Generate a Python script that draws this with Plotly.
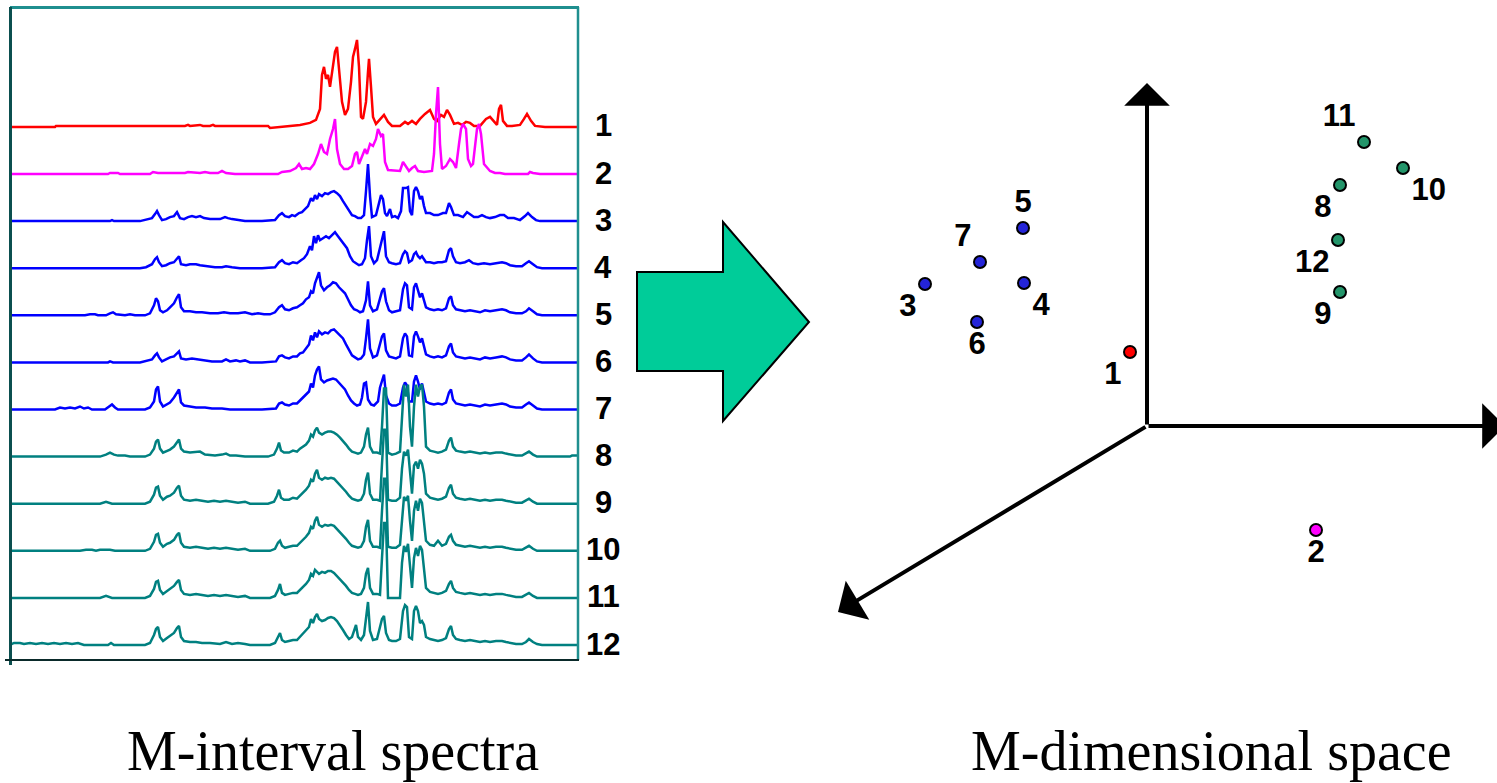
import plotly.graph_objects as go

W, H = 1497, 783

# ---------------- data: left panel (spectra) ----------------
# each spectrum: (channel, intensity above its own baseline)
spectrum_1 = [(10,0),(55,0),(56,1),(185,1),(188,2),(190,1),(200,2),(203,1),(210,1),(213,2),(215,1),(268,1),(270,-1),(285,0),(290,1),(300,2),(310,4),(316,7),(320,18),(322,52),(324,60),(326,48),(328,52),(330,40),(333,60),(335,75),(337,80),(339,55),(342,25),(345,12),(348,18),(351,45),(353,70),(355,78),(357,87),(359,60),(361,10),(363,8),(366,25),(368,55),(369,68),(371,40),(373,10),(376,3),(380,8),(384,12),(388,5),(392,1),(400,1),(405,5),(408,3),(412,6),(416,3),(420,8),(425,13),(430,17),(434,8),(437,6),(441,12),(444,10),(447,17),(450,12),(454,3),(458,4),(462,2),(466,5),(470,4),(474,1),(480,1),(486,8),(490,10),(494,6),(497,2),(499,18),(501,22),(503,6),(507,1),(512,1),(520,2),(524,8),(527,13),(531,6),(535,1),(545,0),(578,0)]
spectrum_2 = [(10,0),(108,0),(110,1),(118,1),(120,0),(150,0),(153,2),(158,1),(185,1),(188,2),(200,1),(205,2),(210,1),(218,1),(222,3),(226,1),(235,0),(278,0),(282,2),(290,3),(296,6),(299,10),(302,5),(306,6),(310,5),(314,10),(318,20),(321,30),(324,22),(327,20),(330,35),(333,45),(335,55),(337,25),(340,10),(344,5),(348,5),(352,8),(355,20),(357,22),(359,10),(362,18),(365,25),(367,20),(370,30),(373,28),(376,35),(378,45),(381,38),(383,40),(385,12),(388,4),(395,3),(400,3),(403,12),(406,8),(409,3),(412,6),(415,8),(418,3),(424,2),(432,3),(434,20),(436,60),(438,87),(440,30),(442,5),(446,8),(450,15),(453,12),(456,6),(459,30),(461,45),(463,50),(466,45),(468,15),(471,8),(473,10),(475,30),(477,45),(479,50),(481,40),(484,10),(487,6),(490,3),(495,1),(500,1),(505,0),(528,0),(530,2),(533,1),(540,0),(578,0)]
spectrum_3 = [(10,0),(110,0),(112,1),(114,0),(140,0),(145,1),(152,3),(155,7),(157,10),(159,6),(162,1),(166,2),(170,4),(174,5),(177,9),(180,3),(184,2),(188,4),(192,5),(196,4),(200,5),(204,3),(210,2),(220,2),(225,4),(228,3),(232,2),(245,0),(262,0),(275,1),(279,6),(282,8),(285,5),(289,4),(292,6),(295,5),(299,8),(302,9),(305,12),(308,15),(311,23),(313,20),(315,26),(317,22),(319,27),(322,25),(325,28),(328,27),(331,29),(334,30),(337,28),(340,25),(343,20),(346,15),(349,10),(352,6),(355,5),(358,3),(361,3),(364,6),(366,30),(368,57),(370,25),(372,4),(376,6),(379,20),(381,26),(383,22),(385,8),(387,5),(390,12),(392,4),(395,5),(398,3),(401,10),(403,33),(406,33),(408,34),(410,10),(412,6),(414,30),(416,34),(418,30),(420,22),(422,25),(424,15),(426,8),(430,8),(434,6),(438,6),(441,7),(443,8),(446,8),(449,18),(451,14),(454,6),(458,6),(463,4),(467,9),(470,7),(474,4),(478,4),(482,6),(486,4),(490,3),(495,4),(500,6),(504,6),(508,3),(514,3),(520,1),(525,5),(528,8),(532,4),(536,1),(540,0),(578,0)]
spectrum_4 = [(10,0),(140,0),(146,1),(152,4),(155,9),(157,11),(159,6),(162,2),(166,3),(170,5),(174,6),(177,10),(179,12),(181,4),(186,3),(190,4),(196,4),(200,3),(208,2),(215,1),(222,1),(226,2),(232,1),(240,0),(262,0),(275,1),(279,6),(282,8),(285,5),(289,4),(293,6),(297,5),(301,8),(304,10),(307,14),(310,22),(312,18),(314,32),(316,25),(318,33),(320,28),(323,30),(326,32),(329,30),(332,33),(335,36),(338,32),(341,28),(344,24),(347,20),(350,12),(353,7),(356,5),(359,3),(362,4),(365,10),(367,28),(369,42),(371,12),(374,5),(377,8),(380,20),(382,30),(384,37),(386,12),(389,6),(392,5),(396,4),(400,5),(403,14),(405,17),(407,15),(409,6),(412,8),(414,14),(416,16),(418,12),(420,10),(422,12),(424,9),(426,6),(430,6),(434,5),(438,6),(442,6),(446,7),(449,18),(451,20),(453,12),(456,6),(460,5),(465,6),(469,8),(473,5),(478,4),(484,5),(490,4),(496,5),(502,6),(506,5),(510,3),(516,2),(522,2),(526,5),(529,7),(533,4),(537,1),(542,0),(578,0)]
spectrum_5 = [(10,0),(85,0),(90,1),(95,1),(98,0),(106,0),(110,2),(113,3),(116,1),(125,0),(130,1),(135,0),(145,0),(150,2),(154,10),(156,17),(158,14),(160,5),(163,3),(167,5),(170,8),(174,12),(177,18),(179,21),(181,8),(184,4),(190,4),(196,3),(202,3),(210,2),(218,2),(224,3),(230,2),(238,2),(245,3),(252,1),(258,2),(264,1),(270,1),(275,3),(279,8),(282,10),(285,6),(289,5),(293,7),(297,8),(300,10),(303,12),(306,16),(309,18),(311,24),(313,22),(315,32),(317,38),(319,43),(321,30),(324,25),(327,28),(330,30),(333,33),(336,32),(339,28),(342,25),(345,22),(348,16),(351,10),(354,6),(357,5),(360,3),(363,4),(366,15),(368,34),(370,10),(373,4),(377,6),(380,18),(382,24),(384,27),(386,14),(389,5),(392,3),(396,4),(400,5),(403,26),(405,32),(407,30),(409,8),(412,6),(414,28),(416,32),(418,26),(420,18),(422,22),(424,16),(426,8),(430,6),(434,5),(438,6),(442,5),(446,7),(449,17),(451,19),(453,10),(456,6),(460,5),(465,4),(470,5),(475,4),(480,3),(485,5),(490,4),(496,5),(502,6),(506,5),(510,3),(516,2),(522,2),(526,4),(529,7),(533,4),(537,1),(542,0),(578,0)]
spectrum_6 = [(10,0),(108,0),(110,1),(113,0),(140,0),(145,1),(152,3),(155,7),(157,9),(159,5),(162,1),(166,3),(170,5),(174,6),(177,9),(179,11),(181,4),(186,3),(192,4),(198,3),(204,2),(212,1),(222,1),(226,3),(230,1),(236,2),(240,1),(245,2),(250,0),(262,0),(276,1),(279,6),(282,7),(285,5),(289,4),(293,6),(297,6),(300,9),(303,10),(306,14),(309,18),(311,27),(313,22),(315,30),(317,25),(319,31),(322,28),(325,30),(328,29),(331,32),(334,33),(337,30),(340,27),(343,24),(346,18),(349,12),(352,7),(355,5),(358,3),(361,4),(364,8),(366,24),(368,43),(370,14),(373,5),(377,7),(380,18),(382,26),(384,29),(386,12),(389,6),(392,5),(396,4),(400,6),(403,24),(405,29),(407,26),(409,7),(412,6),(414,26),(416,31),(418,26),(420,20),(422,24),(424,16),(426,8),(430,6),(434,5),(438,6),(442,5),(446,7),(449,16),(451,19),(453,10),(456,6),(460,5),(465,4),(470,5),(475,4),(480,3),(485,5),(490,4),(496,5),(502,6),(506,5),(510,3),(516,2),(522,2),(526,5),(529,8),(533,4),(537,1),(542,0),(578,0)]
spectrum_7 = [(10,0),(55,0),(60,2),(65,1),(70,2),(75,1),(80,3),(84,1),(88,2),(92,0),(105,0),(109,3),(112,5),(115,2),(118,0),(145,0),(150,2),(154,8),(156,20),(158,23),(160,8),(163,3),(167,5),(170,7),(174,12),(177,17),(179,20),(181,7),(184,4),(190,3),(196,2),(205,2),(212,1),(222,1),(230,0),(262,0),(276,1),(279,6),(282,7),(285,5),(289,4),(293,6),(297,6),(300,9),(303,12),(306,14),(309,18),(311,26),(313,22),(315,34),(317,40),(319,43),(321,30),(324,27),(327,29),(330,30),(333,31),(336,30),(339,27),(342,24),(345,20),(348,14),(351,9),(354,6),(357,4),(360,5),(362,12),(364,26),(366,27),(368,10),(371,5),(374,4),(378,8),(380,22),(382,30),(384,35),(386,14),(389,6),(392,4),(396,4),(400,6),(403,22),(405,27),(407,24),(409,8),(412,8),(414,28),(416,34),(418,28),(420,20),(422,26),(424,18),(426,8),(430,6),(434,5),(438,6),(442,5),(446,7),(449,17),(451,20),(453,10),(456,6),(460,5),(465,4),(470,5),(475,4),(480,3),(485,5),(490,4),(496,5),(502,6),(506,5),(510,3),(516,2),(522,2),(526,5),(529,7),(533,4),(537,1),(542,0),(578,0)]
spectrum_8 = [(10,0),(100,0),(106,2),(110,4),(114,2),(118,1),(125,1),(130,0),(145,0),(150,2),(154,8),(156,15),(158,17),(160,8),(163,4),(167,6),(170,7),(174,10),(177,14),(179,17),(181,8),(184,5),(190,4),(196,5),(200,5),(205,2),(215,1),(222,2),(226,3),(230,1),(236,1),(245,0),(268,0),(274,2),(277,8),(279,14),(281,6),(284,4),(289,4),(293,6),(297,5),(300,8),(303,10),(306,12),(309,16),(311,22),(313,20),(315,26),(317,29),(319,24),(322,22),(325,24),(328,25),(331,25),(334,24),(337,22),(340,19),(343,16),(346,12),(349,8),(352,5),(355,4),(358,3),(361,4),(364,10),(366,22),(368,29),(370,10),(373,4),(377,4),(380,3),(382,30),(384,68),(386,68),(388,4),(392,2),(396,3),(400,5),(402,40),(404,72),(406,60),(408,72),(410,30),(412,10),(414,50),(416,72),(418,60),(420,70),(422,72),(424,50),(426,10),(430,6),(434,5),(438,4),(442,5),(446,7),(449,16),(451,19),(453,10),(456,6),(460,5),(465,4),(470,5),(475,4),(480,3),(485,4),(490,3),(496,4),(502,4),(506,3),(510,2),(516,1),(522,1),(526,3),(529,5),(533,2),(537,0),(570,0),(572,1),(578,1)]
spectrum_9 = [(10,0),(100,0),(106,2),(109,1),(112,0),(145,0),(150,2),(154,9),(156,16),(158,17),(160,8),(163,4),(167,7),(170,8),(174,11),(177,16),(179,18),(181,8),(184,4),(190,3),(196,4),(202,3),(208,2),(214,3),(220,2),(226,3),(232,2),(238,1),(245,2),(250,0),(268,0),(274,2),(277,8),(279,14),(281,6),(284,4),(289,4),(293,6),(297,5),(300,8),(303,10),(306,14),(309,18),(311,24),(313,22),(315,30),(317,34),(319,26),(322,24),(325,26),(328,25),(331,26),(334,25),(337,22),(340,18),(343,15),(346,12),(349,8),(352,5),(355,4),(358,3),(361,4),(364,10),(366,24),(368,31),(370,10),(373,4),(377,4),(380,3),(382,40),(384,74),(386,74),(388,4),(392,3),(396,3),(400,6),(402,35),(404,52),(406,48),(408,54),(410,30),(412,10),(414,38),(416,42),(418,35),(420,44),(422,40),(424,30),(426,10),(430,6),(434,5),(438,4),(442,5),(446,7),(449,16),(451,19),(453,10),(456,6),(460,5),(465,4),(470,5),(475,4),(480,3),(485,4),(490,3),(496,4),(502,4),(506,3),(510,2),(516,1),(522,1),(526,3),(529,5),(533,2),(537,0),(578,0)]
spectrum_10 = [(10,0),(80,0),(86,1),(92,1),(96,0),(100,1),(110,1),(115,0),(145,0),(150,2),(154,9),(156,16),(158,17),(160,8),(163,4),(167,7),(170,8),(174,11),(177,16),(179,18),(181,8),(184,4),(190,3),(196,4),(202,3),(208,2),(214,3),(220,2),(226,3),(232,2),(238,1),(245,2),(250,0),(270,0),(275,2),(278,8),(280,10),(282,5),(285,3),(289,4),(293,5),(297,5),(300,8),(303,10),(306,14),(309,18),(311,24),(313,22),(315,30),(317,34),(319,26),(322,24),(325,26),(328,25),(331,26),(334,25),(337,22),(340,18),(343,15),(346,12),(349,8),(352,5),(355,4),(358,3),(361,4),(364,10),(366,24),(368,31),(370,10),(373,4),(377,4),(380,3),(382,40),(384,72),(386,72),(388,4),(392,3),(396,3),(400,6),(402,35),(404,54),(406,50),(408,55),(410,30),(412,10),(414,40),(416,50),(418,40),(420,52),(422,48),(424,30),(426,10),(430,6),(434,5),(438,10),(440,8),(442,5),(446,7),(449,14),(451,16),(453,10),(456,6),(460,5),(465,4),(470,5),(475,4),(480,3),(485,4),(490,3),(496,4),(502,4),(506,3),(510,2),(516,1),(522,1),(526,3),(529,5),(533,2),(537,0),(578,0)]
spectrum_11 = [(10,0),(100,0),(106,2),(109,1),(112,0),(145,0),(150,2),(154,9),(156,16),(158,17),(160,8),(163,4),(167,7),(170,9),(174,12),(177,16),(179,18),(181,8),(184,4),(190,3),(196,4),(202,3),(208,2),(214,3),(220,2),(226,3),(232,2),(238,1),(245,2),(250,0),(270,0),(275,2),(278,8),(280,14),(282,5),(285,3),(289,4),(293,5),(297,5),(300,8),(303,10),(306,14),(309,18),(311,24),(313,22),(315,28),(317,26),(319,24),(322,26),(325,25),(328,27),(331,27),(334,25),(337,22),(340,18),(343,15),(346,12),(349,8),(352,5),(355,4),(358,3),(361,4),(364,10),(366,24),(368,30),(370,10),(373,4),(377,4),(380,3),(382,40),(384,75),(386,75),(388,0),(400,0),(402,35),(404,52),(406,46),(408,54),(410,30),(412,10),(414,40),(416,50),(418,42),(420,52),(422,48),(424,30),(426,10),(430,6),(434,5),(438,4),(442,5),(446,7),(449,14),(451,17),(453,10),(456,6),(460,5),(465,4),(470,5),(475,4),(480,3),(485,4),(490,3),(496,4),(502,4),(506,3),(510,2),(516,1),(522,1),(526,3),(529,5),(533,2),(537,0),(578,0)]
spectrum_12 = [(10,0),(14,2),(20,2),(24,1),(30,2),(36,1),(42,2),(48,1),(54,2),(60,1),(66,2),(72,1),(78,2),(84,0),(108,0),(111,2),(114,0),(145,0),(150,2),(154,10),(156,16),(158,18),(160,8),(163,4),(167,7),(170,9),(174,12),(177,17),(179,19),(181,8),(184,4),(190,3),(196,3),(202,2),(210,2),(220,1),(226,3),(232,1),(238,2),(245,1),(250,0),(270,0),(275,2),(278,8),(280,12),(282,5),(285,3),(289,4),(293,5),(297,5),(300,8),(303,12),(306,14),(309,18),(311,26),(313,22),(315,28),(317,31),(319,26),(322,24),(325,25),(328,27),(331,28),(334,27),(337,24),(340,20),(343,15),(346,10),(349,6),(352,8),(354,14),(356,20),(358,8),(361,5),(364,10),(366,28),(368,43),(370,14),(373,5),(377,6),(380,20),(382,26),(384,29),(386,12),(389,5),(392,4),(396,4),(400,6),(403,34),(405,40),(407,38),(409,8),(412,6),(414,34),(416,39),(418,34),(420,22),(422,24),(424,20),(426,8),(430,6),(434,5),(438,4),(442,5),(446,7),(449,16),(451,19),(453,10),(456,6),(460,5),(465,4),(470,5),(475,4),(480,3),(485,4),(490,3),(496,4),(502,4),(506,3),(510,2),(516,1),(522,1),(526,3),(529,6),(533,3),(537,1),(542,0),(578,0)]

spectra = [spectrum_1, spectrum_2, spectrum_3, spectrum_4, spectrum_5, spectrum_6,
           spectrum_7, spectrum_8, spectrum_9, spectrum_10, spectrum_11, spectrum_12]
spectrum_labels = ["1", "2", "3", "4", "5", "6", "7", "8", "9", "10", "11", "12"]

# ---------------- data: right panel (M-dimensional space) ----------------
point_labels = ["1", "2", "3", "4", "5", "6", "7", "8", "9", "10", "11", "12"]
point_x = [-1.7, 16.9, -22.2, -12.3, -12.4, -17.0, -16.7, 19.3, 19.3, 25.6, 21.7, 19.1]
point_y = [7.4, -10.4, 14.2, 14.3, 19.8, 10.4, 16.4, 24.1, 13.4, 25.8, 28.4, 18.6]

# ---------------- styles ----------------
RED, MAG, BLUE, TEAL = "#FF0000", "#FF00FF", "#0000FF", "#008080"
spectrum_colors = [RED, MAG] + [BLUE] * 5 + [TEAL] * 5
point_colors = ["#FF0000", "#FF00FF"] + ["#2424D8"] * 5 + ["#23956A"] * 5
point_textpos = ["bottom left", "bottom center", "bottom left", "bottom right", "top center",
                 "bottom center", "top left", "bottom left", "bottom left", "bottom right",
                 "top left", "bottom left"]
LABEL_FONT = dict(family="Liberation Sans, Arial, sans-serif", size=31, color="black", weight="bold")

SPACING = 47.1
BASE0 = 15

fig = go.Figure()

for k, (spec, color) in enumerate(zip(spectra, spectrum_colors)):
    offset = BASE0 + (len(spectra) - 1 - k) * SPACING
    fig.add_trace(go.Scatter(
        x=[p[0] for p in spec], y=[offset + p[1] for p in spec],
        mode="lines", line=dict(color=color, width=2.5),
        xaxis="x", yaxis="y", hoverinfo="skip", showlegend=False))

fig.add_trace(go.Scatter(
    x=point_x, y=point_y, mode="markers+text", text=point_labels,
    textposition=point_textpos, textfont=LABEL_FONT,
    marker=dict(size=12, color=point_colors, line=dict(color="black", width=2)),
    xaxis="x2", yaxis="y2", hoverinfo="skip", showlegend=False, cliponaxis=False))

def px_x(v):
    return v / W

def px_y(v):
    return 1 - v / H

annotations = []
for k, lab in enumerate(spectrum_labels):
    offset = BASE0 + (len(spectra) - 1 - k) * SPACING
    annotations.append(dict(
        x=px_x(603), xref="paper", y=offset + 1, yref="y", text=lab, showarrow=False,
        xanchor="center", yanchor="middle", font=LABEL_FONT))

# 3-D style coordinate axes on the right
for tip in [(0, 34.3), (35.8, 0), (-30.9, -18.6)]:
    annotations.append(dict(
        x=tip[0], y=tip[1], xref="x2", yref="y2",
        ax=0, ay=0, axref="x2", ayref="y2",
        text="", showarrow=True, arrowhead=1, arrowsize=1.9, arrowwidth=4,
        arrowcolor="black", standoff=0, startstandoff=0))

title_font = dict(family="Liberation Serif, Times New Roman, serif", size=56, color="black")
annotations.append(dict(x=px_x(333), y=px_y(751), xref="paper", yref="paper",
                        text="M-interval spectra", showarrow=False,
                        xanchor="center", yanchor="middle", font=title_font))
annotations.append(dict(x=px_x(1211), y=px_y(751), xref="paper", yref="paper",
                        text="M-dimensional space", showarrow=False,
                        xanchor="center", yanchor="middle", font=title_font))

shapes = []
# frame of the spectra panel
shapes.append(dict(type="line", xref="paper", yref="paper", x0=px_x(10), x1=px_x(579),
                   y0=px_y(7.5), y1=px_y(7.5), line=dict(color="#1F8F8F", width=3)))
shapes.append(dict(type="line", xref="paper", yref="paper", x0=px_x(578), x1=px_x(578),
                   y0=px_y(7), y1=px_y(660), line=dict(color="#1F8F8F", width=2.5)))
shapes.append(dict(type="line", xref="paper", yref="paper", x0=px_x(10.5), x1=px_x(10.5),
                   y0=px_y(7), y1=px_y(665), line=dict(color="#0B4F4F", width=3)))
shapes.append(dict(type="line", xref="paper", yref="paper", x0=px_x(5), x1=px_x(579),
                   y0=px_y(660), y1=px_y(660), line=dict(color="#0A2A2A", width=2)))
# big transformation arrow
arrow_pts = [(637, 272), (723, 272), (723, 222), (809, 322), (723, 421), (723, 371), (637, 371)]
path = "M " + " L ".join(f"{px_x(a):.5f},{px_y(b):.5f}" for a, b in arrow_pts) + " Z"
shapes.append(dict(type="path", xref="paper", yref="paper", path=path,
                   fillcolor="#00CC99", line=dict(color="black", width=2)))

fig.update_layout(
    width=W, height=H, margin=dict(l=0, r=0, t=0, b=0),
    paper_bgcolor="white", plot_bgcolor="rgba(0,0,0,0)", showlegend=False,
    xaxis=dict(domain=[px_x(10), px_x(578)], range=[10, 578], visible=False, fixedrange=True),
    yaxis=dict(domain=[px_y(660), px_y(7)], range=[0, 653], visible=False, fixedrange=True),
    xaxis2=dict(domain=[px_x(823), 1], range=[-32.4, 35.0], visible=False, fixedrange=True),
    yaxis2=dict(domain=[0, 1], range=[-35.7, 42.6], visible=False, fixedrange=True),
    annotations=annotations, shapes=shapes,
)

fig.write_html("out.html")
